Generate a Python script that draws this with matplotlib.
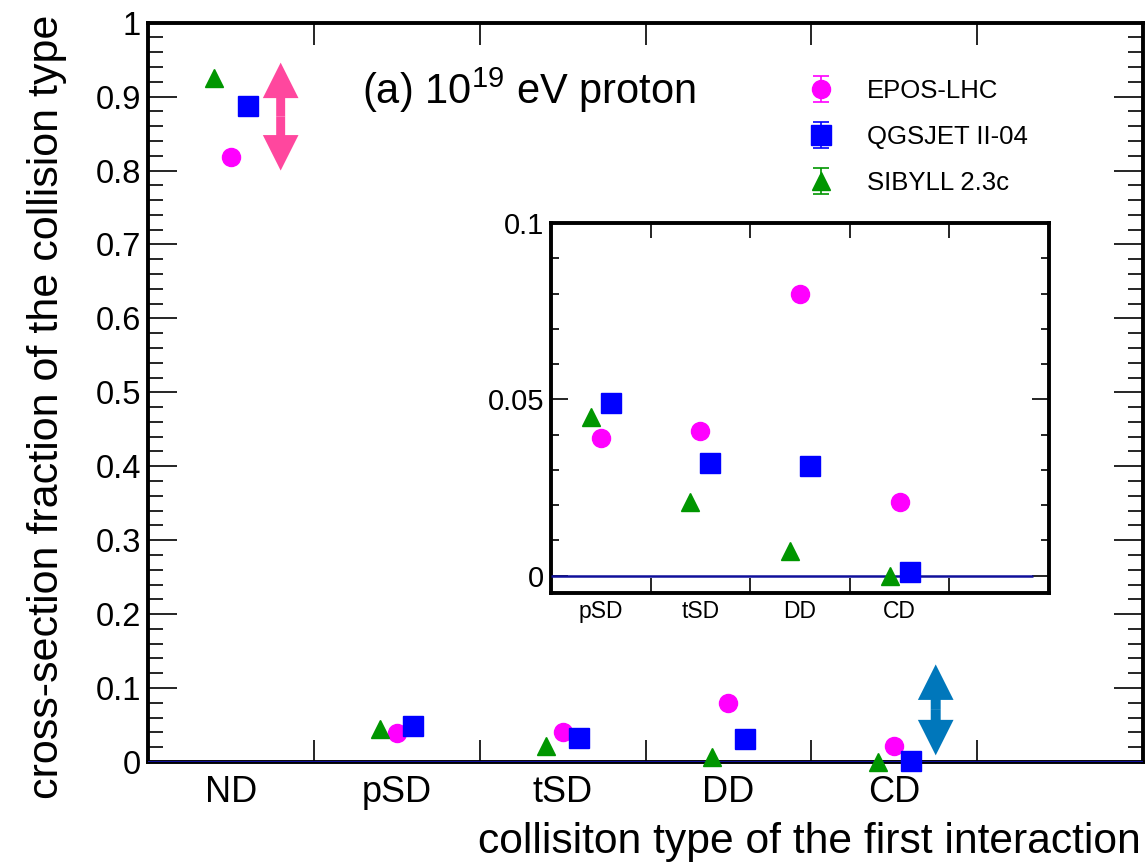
import numpy as np
import matplotlib
matplotlib.use("Agg")
import matplotlib.pyplot as plt
from matplotlib.patches import FancyArrow
from matplotlib.ticker import FixedLocator, FixedFormatter, MultipleLocator, FormatStrFormatter

plt.rcParams['font.family'] = ['Liberation Sans', 'DejaVu Sans']
plt.rcParams['mathtext.fontset'] = 'custom'
plt.rcParams['mathtext.rm'] = 'Liberation Sans'
plt.rcParams['mathtext.it'] = 'Liberation Sans:italic'

# data
categories = ["ND", "pSD", "tSD", "DD", "CD"]
models = ["EPOS-LHC", "QGSJET II-04", "SIBYLL 2.3c"]
epos = [0.818, 0.039, 0.041, 0.080, 0.021]
qgsjet = [0.888, 0.049, 0.032, 0.031, 0.001]
sibyll = [0.925, 0.045, 0.021, 0.007, 0.000]
errors = [0.0, 0.0, 0.0, 0.0, 0.0]

W, H = 1147, 863


def fx(px):
    return px / W


def fy(py):
    return 1 - py / H


series = [
    (epos, "o", "#ff00ff", 13.0, 0.0),
    (qgsjet, "s", "#0000ff", 14.0, 0.1),
    (sibyll, "^", "#009600", 13.5, -0.1),
]
centers = np.arange(len(categories)) + 0.5


def draw_points(ax):
    handles = []
    for (vals, mk, col, ms, off), name in zip(series, models):
        h = ax.errorbar(centers + off, vals, yerr=errors, fmt=mk, color=col,
                        ms=ms, mec=col, capsize=6, elinewidth=1.2,
                        capthick=1.2, label=name, zorder=5, clip_on=False)
        handles.append(h)
    return handles


def hide_caps(handles):
    # the error bars are zero; caps are only wanted in the legend
    for h in handles:
        for c in h[1]:
            c.set_visible(False)


def style_axes(ax, lw, ymaj, ymin_len, xlen, labsize):
    for s in ax.spines.values():
        s.set_linewidth(lw)
    ax.tick_params(axis='y', which='both', direction='in', left=True, right=True,
                   width=1.2, labelsize=labsize, pad=5)
    ax.tick_params(axis='y', which='major', length=ymaj)
    ax.tick_params(axis='y', which='minor', length=ymin_len)
    ax.tick_params(axis='x', which='major', direction='in', top=True, bottom=True,
                   length=xlen, width=1.2, labelbottom=False)


fig = plt.figure(figsize=(W / 100, H / 100), dpi=100)

# main axes
ax = fig.add_axes([fx(148), fy(762), fx(1143) - fx(148), fy(22.7) - fy(762)])
ax.set_xlim(0, 6)
ax.set_ylim(0, 1)
ax.axhline(0, color="#10109a", lw=2.2, zorder=3)
handles = draw_points(ax)

style_axes(ax, 2.8, 21, 10.5, 16, 23.5)
ax.yaxis.set_major_locator(MultipleLocator(0.1))
ax.yaxis.set_minor_locator(MultipleLocator(0.02))
ax.yaxis.set_major_formatter(FormatStrFormatter('%g'))
ax.xaxis.set_major_locator(FixedLocator([1, 2, 3, 4, 5]))
ax.xaxis.set_minor_locator(FixedLocator(centers))
ax.xaxis.set_minor_formatter(FixedFormatter(categories))
ax.tick_params(axis='x', which='minor', length=0, labelsize=26, pad=9)

# double arrows
for xc, y0, y1, col, shaft in [(0.80, 0.800, 0.946, "#ff479e", 0.054),
                               (4.75, 0.009, 0.132, "#0077bb", 0.06)]:
    mid = (y0 + y1) / 2
    for ye in (y0, y1):
        ax.add_patch(FancyArrow(xc, mid, 0, ye - mid, width=shaft,
                                head_width=0.215, head_length=0.048,
                                length_includes_head=True, color=col, lw=0,
                                zorder=4))

leg = ax.legend(handles=handles, loc="center left",
                bbox_to_anchor=(fx(795), fy(137)), bbox_transform=fig.transFigure,
                frameon=False, fontsize=18.5, handlelength=2.0,
                handletextpad=0.8, labelspacing=0.85, borderpad=0,
                borderaxespad=0)
hide_caps(handles)

fig.text(fx(362), fy(90), r"(a) 10$^{19}$ eV proton", fontsize=30,
         ha="left", va="center")
fig.text(fx(47), fy(15), "cross-section fraction of the collision type",
         fontsize=31, rotation=90, ha="center", va="top")
fig.text(fx(1141), fy(842), "collisiton type of the first interaction",
         fontsize=30.7, ha="right", va="center")

# inset
ins = fig.add_axes([fx(551), fy(592.7), fx(1049) - fx(551), fy(223) - fy(592.7)])
ins.set_xlim(1, 6)
ins.set_ylim(-0.0048, 0.1)
ins.hlines(0, 1.0, 5.84, color="#10109a", lw=1.8, zorder=3)
hide_caps(draw_points(ins))
style_axes(ins, 2.8, 12, 6, 11, 21)
ins.yaxis.set_major_locator(MultipleLocator(0.05))
ins.yaxis.set_minor_locator(MultipleLocator(0.01))
ins.yaxis.set_major_formatter(FormatStrFormatter('%g'))
ins.xaxis.set_major_locator(FixedLocator([2, 3, 4, 5]))
ins.xaxis.set_minor_locator(FixedLocator(centers[1:]))
ins.xaxis.set_minor_formatter(FixedFormatter(categories[1:]))
ins.tick_params(axis='x', which='minor', length=0, labelsize=16.5, pad=5)

fig.savefig("out.png", dpi=100)
